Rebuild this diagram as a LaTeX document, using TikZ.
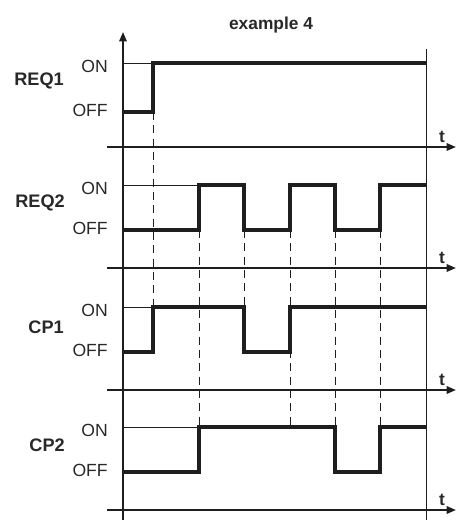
\documentclass[tikz,border=0pt]{standalone}
\usepackage{fontspec}
\setmainfont{Liberation Sans}
\usetikzlibrary{arrows.meta}
\definecolor{ink}{RGB}{30,30,30}
\definecolor{txt}{RGB}{40,40,40}
\begin{document}
\begin{tikzpicture}[x=0.75pt,y=-0.75pt,
  sig/.style={ink,line width=2.4pt,line join=miter},
  axisline/.style={ink,line width=1.5pt,-{Triangle[length=7pt,width=5.5pt]}},
  thinline/.style={ink,line width=0.7pt},
  guide/.style={ink,line width=0.7pt,dash pattern=on 6pt off 4pt},
  lvl/.style={txt,font=\fontsize{13.2}{15}\selectfont,anchor=east,inner sep=0pt},
  sname/.style={txt,font=\fontsize{13.6}{15}\selectfont\bfseries,anchor=east,inner sep=0pt},
  tlab/.style={txt,font=\fontsize{13}{15}\selectfont\bfseries,inner sep=0pt}]
\useasboundingbox (0,0) rectangle (457,520);

% title
\node[tlab] (title) at (271,25) {example 4};

% dashed guides
\draw[guide] (153,112) -- (153,307);
\draw[guide] (199,230) -- (199,427);
\draw[guide] (244,230) -- (244,307);
\draw[guide] (290,230) -- (290,427);
\draw[guide] (335,230) -- (335,427);
\draw[guide] (380,230) -- (380,427);

% thin ON reference lines
\draw[thinline] (123,63) -- (153,63);
\draw[thinline] (123,185) -- (199,185);
\draw[thinline] (123,307) -- (153,307);
\draw[thinline] (123,427) -- (199,427);

% right boundary
\draw[thinline] (426,49) -- (426,520);

% waveforms
\draw[sig] (123,112) -- (153,112) -- (153,63) -- (426,63);
\draw[sig] (123,230) -- (199,230) -- (199,185) -- (244,185) -- (244,230) -- (290,230)
  -- (290,185) -- (335,185) -- (335,230) -- (380,230) -- (380,185) -- (426,185);
\draw[sig] (123,352) -- (153,352) -- (153,307) -- (244,307) -- (244,352) -- (290,352)
  -- (290,307) -- (426,307);
\draw[sig] (123,472) -- (199,472) -- (199,427) -- (335,427) -- (335,472) -- (380,472)
  -- (380,427) -- (426,427);

% axes
\draw[axisline] (123,520) -- (123,32);
\foreach \yy/\nm in {147/a,268/b,390/c,510/d}{
  \draw[axisline] (107,\yy) -- (456,\yy);
  \node[tlab] (t\nm) at (442,\yy-10) {t};
}

% level labels
\node[lvl] (on1) at (108,66) {ON};
\node[lvl] (off1) at (108,110) {OFF};
\node[lvl] (on2) at (108,188) {ON};
\node[lvl] (off2) at (108,228) {OFF};
\node[lvl] (on3) at (108,310) {ON};
\node[lvl] (off3) at (108,350) {OFF};
\node[lvl] (on4) at (108,430) {ON};
\node[lvl] (off4) at (108,470) {OFF};

% signal names
\node[sname] (req1) at (64,81) {REQ1};
\node[sname] (req2) at (65,203) {REQ2};
\node[sname] (cp1) at (64,327) {CP1};
\node[sname] (cp2) at (65,445) {CP2};
\end{tikzpicture}
\end{document}
